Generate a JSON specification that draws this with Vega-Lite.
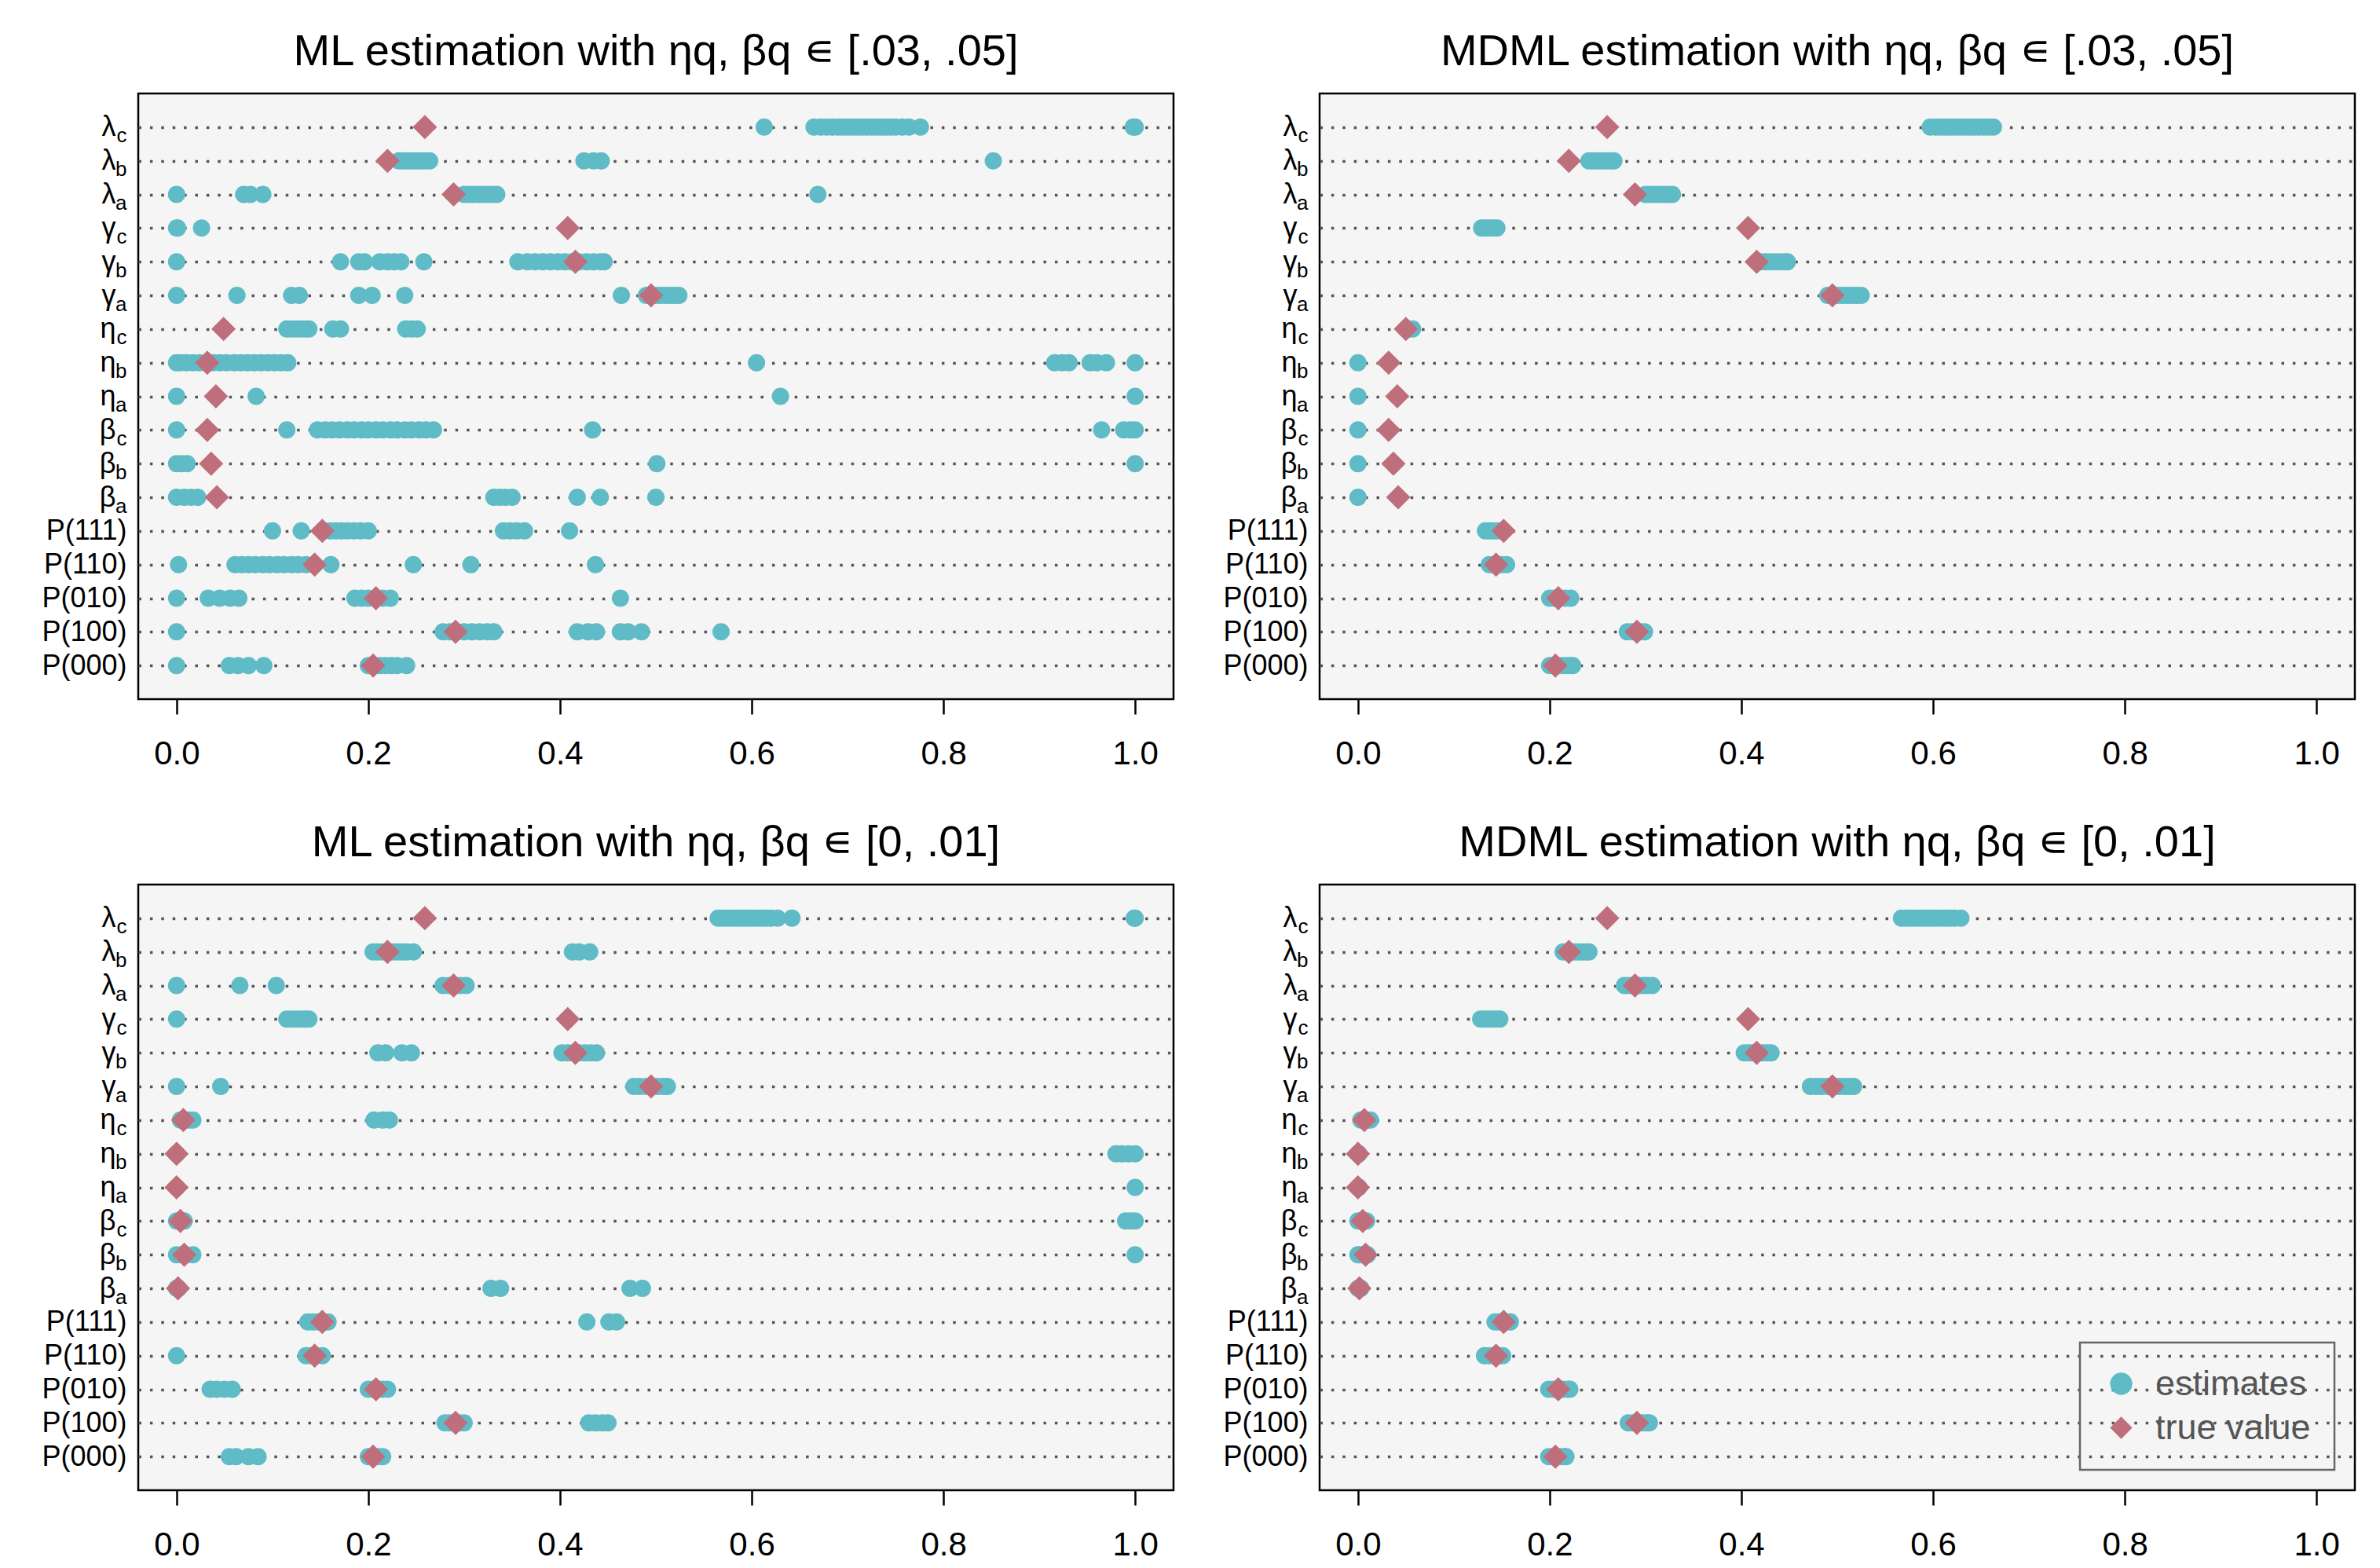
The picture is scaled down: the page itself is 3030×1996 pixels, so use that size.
{
"$schema": "https://vega.github.io/schema/vega-lite/v6.json",
"background": "white",
"padding": {"left": 51, "top": 36, "right": 30, "bottom": 20},
"datasets": {
"ml_a": [
{"param":"λc","value":0.613},{"param":"λc","value":0.665},{"param":"λc","value":0.672},{"param":"λc","value":0.678},{"param":"λc","value":0.684},{"param":"λc","value":0.69},{"param":"λc","value":0.695},{"param":"λc","value":0.7},{"param":"λc","value":0.705},{"param":"λc","value":0.71},{"param":"λc","value":0.715},{"param":"λc","value":0.72},{"param":"λc","value":0.725},{"param":"λc","value":0.73},{"param":"λc","value":0.735},{"param":"λc","value":0.74},{"param":"λc","value":0.745},{"param":"λc","value":0.75},{"param":"λc","value":0.757},{"param":"λc","value":0.764},{"param":"λc","value":0.776},{"param":"λc","value":0.998},{"param":"λc","value":1.0},
{"param":"λb","value":0.232},{"param":"λb","value":0.236},{"param":"λb","value":0.24},{"param":"λb","value":0.244},{"param":"λb","value":0.248},{"param":"λb","value":0.252},{"param":"λb","value":0.256},{"param":"λb","value":0.26},{"param":"λb","value":0.264},{"param":"λb","value":0.425},{"param":"λb","value":0.435},{"param":"λb","value":0.443},{"param":"λb","value":0.852},
{"param":"λa","value":0.0},{"param":"λa","value":0.07},{"param":"λa","value":0.077},{"param":"λa","value":0.09},{"param":"λa","value":0.3},{"param":"λa","value":0.305},{"param":"λa","value":0.31},{"param":"λa","value":0.315},{"param":"λa","value":0.32},{"param":"λa","value":0.325},{"param":"λa","value":0.33},{"param":"λa","value":0.334},{"param":"λa","value":0.669},
{"param":"γc","value":0.0},{"param":"γc","value":0.001},{"param":"γc","value":0.026},
{"param":"γb","value":0.0},{"param":"γb","value":0.171},{"param":"γb","value":0.19},{"param":"γb","value":0.196},{"param":"γb","value":0.212},{"param":"γb","value":0.22},{"param":"γb","value":0.227},{"param":"γb","value":0.234},{"param":"γb","value":0.258},{"param":"γb","value":0.356},{"param":"γb","value":0.366},{"param":"γb","value":0.374},{"param":"γb","value":0.382},{"param":"γb","value":0.39},{"param":"γb","value":0.398},{"param":"γb","value":0.405},{"param":"γb","value":0.412},{"param":"γb","value":0.42},{"param":"γb","value":0.428},{"param":"γb","value":0.435},{"param":"γb","value":0.442},{"param":"γb","value":0.446},
{"param":"γa","value":0.0},{"param":"γa","value":0.063},{"param":"γa","value":0.12},{"param":"γa","value":0.128},{"param":"γa","value":0.19},{"param":"γa","value":0.204},{"param":"γa","value":0.238},{"param":"γa","value":0.464},{"param":"γa","value":0.49},{"param":"γa","value":0.495},{"param":"γa","value":0.5},{"param":"γa","value":0.505},{"param":"γa","value":0.51},{"param":"γa","value":0.515},{"param":"γa","value":0.52},{"param":"γa","value":0.524},
{"param":"ηc","value":0.115},{"param":"ηc","value":0.12},{"param":"ηc","value":0.125},{"param":"ηc","value":0.13},{"param":"ηc","value":0.135},{"param":"ηc","value":0.138},{"param":"ηc","value":0.163},{"param":"ηc","value":0.171},{"param":"ηc","value":0.239},{"param":"ηc","value":0.245},{"param":"ηc","value":0.251},
{"param":"ηb","value":0.0},{"param":"ηb","value":0.004},{"param":"ηb","value":0.01},{"param":"ηb","value":0.017},{"param":"ηb","value":0.024},{"param":"ηb","value":0.031},{"param":"ηb","value":0.038},{"param":"ηb","value":0.045},{"param":"ηb","value":0.052},{"param":"ηb","value":0.06},{"param":"ηb","value":0.067},{"param":"ηb","value":0.074},{"param":"ηb","value":0.081},{"param":"ηb","value":0.088},{"param":"ηb","value":0.095},{"param":"ηb","value":0.102},{"param":"ηb","value":0.109},{"param":"ηb","value":0.116},{"param":"ηb","value":0.605},{"param":"ηb","value":0.916},{"param":"ηb","value":0.924},{"param":"ηb","value":0.931},{"param":"ηb","value":0.953},{"param":"ηb","value":0.96},{"param":"ηb","value":0.97},{"param":"ηb","value":1.0},
{"param":"ηa","value":0.0},{"param":"ηa","value":0.083},{"param":"ηa","value":0.63},{"param":"ηa","value":1.0},
{"param":"βc","value":0.0},{"param":"βc","value":0.115},{"param":"βc","value":0.147},{"param":"βc","value":0.155},{"param":"βc","value":0.162},{"param":"βc","value":0.17},{"param":"βc","value":0.178},{"param":"βc","value":0.185},{"param":"βc","value":0.193},{"param":"βc","value":0.2},{"param":"βc","value":0.208},{"param":"βc","value":0.215},{"param":"βc","value":0.223},{"param":"βc","value":0.23},{"param":"βc","value":0.238},{"param":"βc","value":0.245},{"param":"βc","value":0.253},{"param":"βc","value":0.26},{"param":"βc","value":0.268},{"param":"βc","value":0.434},{"param":"βc","value":0.965},{"param":"βc","value":0.988},{"param":"βc","value":0.995},{"param":"βc","value":1.0},
{"param":"βb","value":0.0},{"param":"βb","value":0.005},{"param":"βb","value":0.011},{"param":"βb","value":0.501},{"param":"βb","value":1.0},
{"param":"βa","value":0.0},{"param":"βa","value":0.008},{"param":"βa","value":0.015},{"param":"βa","value":0.022},{"param":"βa","value":0.331},{"param":"βa","value":0.337},{"param":"βa","value":0.343},{"param":"βa","value":0.35},{"param":"βa","value":0.418},{"param":"βa","value":0.442},{"param":"βa","value":0.5},
{"param":"P(111)","value":0.1},{"param":"P(111)","value":0.13},{"param":"P(111)","value":0.16},{"param":"P(111)","value":0.166},{"param":"P(111)","value":0.172},{"param":"P(111)","value":0.178},{"param":"P(111)","value":0.185},{"param":"P(111)","value":0.192},{"param":"P(111)","value":0.2},{"param":"P(111)","value":0.341},{"param":"P(111)","value":0.348},{"param":"P(111)","value":0.355},{"param":"P(111)","value":0.363},{"param":"P(111)","value":0.41},
{"param":"P(110)","value":0.002},{"param":"P(110)","value":0.061},{"param":"P(110)","value":0.068},{"param":"P(110)","value":0.075},{"param":"P(110)","value":0.082},{"param":"P(110)","value":0.09},{"param":"P(110)","value":0.097},{"param":"P(110)","value":0.105},{"param":"P(110)","value":0.112},{"param":"P(110)","value":0.12},{"param":"P(110)","value":0.127},{"param":"P(110)","value":0.135},{"param":"P(110)","value":0.161},{"param":"P(110)","value":0.247},{"param":"P(110)","value":0.307},{"param":"P(110)","value":0.437},
{"param":"P(010)","value":0.0},{"param":"P(010)","value":0.033},{"param":"P(010)","value":0.045},{"param":"P(010)","value":0.056},{"param":"P(010)","value":0.065},{"param":"P(010)","value":0.186},{"param":"P(010)","value":0.193},{"param":"P(010)","value":0.2},{"param":"P(010)","value":0.207},{"param":"P(010)","value":0.215},{"param":"P(010)","value":0.223},{"param":"P(010)","value":0.463},
{"param":"P(100)","value":0.0},{"param":"P(100)","value":0.278},{"param":"P(100)","value":0.285},{"param":"P(100)","value":0.292},{"param":"P(100)","value":0.3},{"param":"P(100)","value":0.308},{"param":"P(100)","value":0.316},{"param":"P(100)","value":0.324},{"param":"P(100)","value":0.331},{"param":"P(100)","value":0.418},{"param":"P(100)","value":0.429},{"param":"P(100)","value":0.438},{"param":"P(100)","value":0.463},{"param":"P(100)","value":0.471},{"param":"P(100)","value":0.485},{"param":"P(100)","value":0.568},
{"param":"P(000)","value":0.0},{"param":"P(000)","value":0.055},{"param":"P(000)","value":0.064},{"param":"P(000)","value":0.075},{"param":"P(000)","value":0.091},{"param":"P(000)","value":0.2},{"param":"P(000)","value":0.206},{"param":"P(000)","value":0.212},{"param":"P(000)","value":0.218},{"param":"P(000)","value":0.224},{"param":"P(000)","value":0.23},{"param":"P(000)","value":0.24}
],
"true_ml_a": [
{"param":"λc","value":0.259},{"param":"λb","value":0.22},{"param":"λa","value":0.289},{"param":"γc","value":0.408},{"param":"γb","value":0.416},{"param":"γa","value":0.495},{"param":"ηc","value":0.049},{"param":"ηb","value":0.032},{"param":"ηa","value":0.041},{"param":"βc","value":0.032},{"param":"βb","value":0.036},{"param":"βa","value":0.042},{"param":"P(111)","value":0.152},{"param":"P(110)","value":0.144},{"param":"P(010)","value":0.208},{"param":"P(100)","value":0.291},{"param":"P(000)","value":0.205}
],
"mdml_a": [
{"param":"λc","value":0.597},{"param":"λc","value":0.603},{"param":"λc","value":0.608},{"param":"λc","value":0.613},{"param":"λc","value":0.618},{"param":"λc","value":0.623},{"param":"λc","value":0.628},{"param":"λc","value":0.633},{"param":"λc","value":0.638},{"param":"λc","value":0.643},{"param":"λc","value":0.648},{"param":"λc","value":0.653},{"param":"λc","value":0.658},{"param":"λc","value":0.663},
{"param":"λb","value":0.241},{"param":"λb","value":0.245},{"param":"λb","value":0.249},{"param":"λb","value":0.253},{"param":"λb","value":0.257},{"param":"λb","value":0.261},{"param":"λb","value":0.265},{"param":"λb","value":0.267},
{"param":"λa","value":0.3},{"param":"λa","value":0.304},{"param":"λa","value":0.308},{"param":"λa","value":0.312},{"param":"λa","value":0.316},{"param":"λa","value":0.32},{"param":"λa","value":0.324},{"param":"λa","value":0.328},
{"param":"γc","value":0.129},{"param":"γc","value":0.132},{"param":"γc","value":0.135},{"param":"γc","value":0.138},{"param":"γc","value":0.141},{"param":"γc","value":0.145},
{"param":"γb","value":0.416},{"param":"γb","value":0.42},{"param":"γb","value":0.425},{"param":"γb","value":0.43},{"param":"γb","value":0.435},{"param":"γb","value":0.44},{"param":"γb","value":0.445},{"param":"γb","value":0.448},
{"param":"γa","value":0.49},{"param":"γa","value":0.495},{"param":"γa","value":0.5},{"param":"γa","value":0.505},{"param":"γa","value":0.51},{"param":"γa","value":0.515},{"param":"γa","value":0.52},{"param":"γa","value":0.525},
{"param":"ηc","value":0.05},{"param":"ηc","value":0.053},{"param":"ηc","value":0.057},
{"param":"ηb","value":0.0},{"param":"ηa","value":0.0},{"param":"βc","value":0.0},{"param":"βb","value":0.0},{"param":"βa","value":0.0},
{"param":"P(111)","value":0.133},{"param":"P(111)","value":0.137},{"param":"P(111)","value":0.141},{"param":"P(111)","value":0.145},
{"param":"P(110)","value":0.137},{"param":"P(110)","value":0.141},{"param":"P(110)","value":0.146},{"param":"P(110)","value":0.15},{"param":"P(110)","value":0.155},
{"param":"P(010)","value":0.2},{"param":"P(010)","value":0.205},{"param":"P(010)","value":0.21},{"param":"P(010)","value":0.216},{"param":"P(010)","value":0.222},
{"param":"P(100)","value":0.281},{"param":"P(100)","value":0.286},{"param":"P(100)","value":0.291},{"param":"P(100)","value":0.295},{"param":"P(100)","value":0.299},
{"param":"P(000)","value":0.2},{"param":"P(000)","value":0.205},{"param":"P(000)","value":0.21},{"param":"P(000)","value":0.215},{"param":"P(000)","value":0.22},{"param":"P(000)","value":0.224}
],
"true_mdml_a": [
{"param":"λc","value":0.26},{"param":"λb","value":0.22},{"param":"λa","value":0.289},{"param":"γc","value":0.407},{"param":"γb","value":0.416},{"param":"γa","value":0.495},{"param":"ηc","value":0.05},{"param":"ηb","value":0.032},{"param":"ηa","value":0.041},{"param":"βc","value":0.032},{"param":"βb","value":0.037},{"param":"βa","value":0.042},{"param":"P(111)","value":0.152},{"param":"P(110)","value":0.144},{"param":"P(010)","value":0.209},{"param":"P(100)","value":0.291},{"param":"P(000)","value":0.206}
],
"ml_b": [
{"param":"λc","value":0.565},{"param":"λc","value":0.57},{"param":"λc","value":0.575},{"param":"λc","value":0.58},{"param":"λc","value":0.585},{"param":"λc","value":0.59},{"param":"λc","value":0.595},{"param":"λc","value":0.6},{"param":"λc","value":0.605},{"param":"λc","value":0.61},{"param":"λc","value":0.615},{"param":"λc","value":0.62},{"param":"λc","value":0.627},{"param":"λc","value":0.642},{"param":"λc","value":0.999},{"param":"λc","value":1.0},
{"param":"λb","value":0.205},{"param":"λb","value":0.21},{"param":"λb","value":0.215},{"param":"λb","value":0.22},{"param":"λb","value":0.225},{"param":"λb","value":0.23},{"param":"λb","value":0.235},{"param":"λb","value":0.24},{"param":"λb","value":0.247},{"param":"λb","value":0.413},{"param":"λb","value":0.42},{"param":"λb","value":0.431},
{"param":"λa","value":0.0},{"param":"λa","value":0.066},{"param":"λa","value":0.104},{"param":"λa","value":0.278},{"param":"λa","value":0.284},{"param":"λa","value":0.29},{"param":"λa","value":0.296},{"param":"λa","value":0.302},
{"param":"γc","value":0.0},{"param":"γc","value":0.115},{"param":"γc","value":0.12},{"param":"γc","value":0.125},{"param":"γc","value":0.13},{"param":"γc","value":0.134},{"param":"γc","value":0.138},
{"param":"γb","value":0.21},{"param":"γb","value":0.218},{"param":"γb","value":0.235},{"param":"γb","value":0.245},{"param":"γb","value":0.402},{"param":"γb","value":0.408},{"param":"γb","value":0.414},{"param":"γb","value":0.42},{"param":"γb","value":0.426},{"param":"γb","value":0.432},{"param":"γb","value":0.438},
{"param":"γa","value":0.0},{"param":"γa","value":0.046},{"param":"γa","value":0.477},{"param":"γa","value":0.483},{"param":"γa","value":0.49},{"param":"γa","value":0.496},{"param":"γa","value":0.502},{"param":"γa","value":0.508},{"param":"γa","value":0.512},
{"param":"ηc","value":0.004},{"param":"ηc","value":0.009},{"param":"ηc","value":0.013},{"param":"ηc","value":0.017},{"param":"ηc","value":0.206},{"param":"ηc","value":0.215},{"param":"ηc","value":0.222},
{"param":"ηb","value":0.0},{"param":"ηb","value":0.98},{"param":"ηb","value":0.986},{"param":"ηb","value":0.993},{"param":"ηb","value":1.0},
{"param":"ηa","value":0.0},{"param":"ηa","value":1.0},
{"param":"βc","value":0.0},{"param":"βc","value":0.004},{"param":"βc","value":0.008},{"param":"βc","value":0.99},{"param":"βc","value":0.995},{"param":"βc","value":1.0},
{"param":"βb","value":0.0},{"param":"βb","value":0.005},{"param":"βb","value":0.01},{"param":"βb","value":0.017},{"param":"βb","value":1.0},
{"param":"βa","value":0.0},{"param":"βa","value":0.002},{"param":"βa","value":0.328},{"param":"βa","value":0.338},{"param":"βa","value":0.473},{"param":"βa","value":0.486},
{"param":"P(111)","value":0.137},{"param":"P(111)","value":0.142},{"param":"P(111)","value":0.147},{"param":"P(111)","value":0.152},{"param":"P(111)","value":0.158},{"param":"P(111)","value":0.428},{"param":"P(111)","value":0.451},{"param":"P(111)","value":0.459},
{"param":"P(110)","value":0.0},{"param":"P(110)","value":0.135},{"param":"P(110)","value":0.14},{"param":"P(110)","value":0.145},{"param":"P(110)","value":0.152},
{"param":"P(010)","value":0.035},{"param":"P(010)","value":0.042},{"param":"P(010)","value":0.05},{"param":"P(010)","value":0.058},{"param":"P(010)","value":0.2},{"param":"P(010)","value":0.205},{"param":"P(010)","value":0.21},{"param":"P(010)","value":0.215},{"param":"P(010)","value":0.22},
{"param":"P(100)","value":0.28},{"param":"P(100)","value":0.285},{"param":"P(100)","value":0.29},{"param":"P(100)","value":0.295},{"param":"P(100)","value":0.3},{"param":"P(100)","value":0.43},{"param":"P(100)","value":0.437},{"param":"P(100)","value":0.444},{"param":"P(100)","value":0.45},
{"param":"P(000)","value":0.055},{"param":"P(000)","value":0.062},{"param":"P(000)","value":0.075},{"param":"P(000)","value":0.085},{"param":"P(000)","value":0.2},{"param":"P(000)","value":0.205},{"param":"P(000)","value":0.21},{"param":"P(000)","value":0.215}
],
"true_ml_b": [
{"param":"λc","value":0.259},{"param":"λb","value":0.22},{"param":"λa","value":0.289},{"param":"γc","value":0.408},{"param":"γb","value":0.416},{"param":"γa","value":0.495},{"param":"ηc","value":0.007},{"param":"ηb","value":0.0},{"param":"ηa","value":0.0},{"param":"βc","value":0.004},{"param":"βb","value":0.008},{"param":"βa","value":0.0015},{"param":"P(111)","value":0.152},{"param":"P(110)","value":0.144},{"param":"P(010)","value":0.208},{"param":"P(100)","value":0.291},{"param":"P(000)","value":0.205}
],
"mdml_b": [
{"param":"λc","value":0.567},{"param":"λc","value":0.572},{"param":"λc","value":0.577},{"param":"λc","value":0.582},{"param":"λc","value":0.587},{"param":"λc","value":0.592},{"param":"λc","value":0.597},{"param":"λc","value":0.602},{"param":"λc","value":0.607},{"param":"λc","value":0.612},{"param":"λc","value":0.617},{"param":"λc","value":0.622},{"param":"λc","value":0.629},
{"param":"λb","value":0.214},{"param":"λb","value":0.218},{"param":"λb","value":0.222},{"param":"λb","value":0.226},{"param":"λb","value":0.23},{"param":"λb","value":0.234},{"param":"λb","value":0.238},{"param":"λb","value":0.241},
{"param":"λa","value":0.278},{"param":"λa","value":0.282},{"param":"λa","value":0.286},{"param":"λa","value":0.29},{"param":"λa","value":0.294},{"param":"λa","value":0.298},{"param":"λa","value":0.302},{"param":"λa","value":0.307},
{"param":"γc","value":0.128},{"param":"γc","value":0.132},{"param":"γc","value":0.136},{"param":"γc","value":0.14},{"param":"γc","value":0.144},{"param":"γc","value":0.148},
{"param":"γb","value":0.403},{"param":"γb","value":0.407},{"param":"γb","value":0.411},{"param":"γb","value":0.415},{"param":"γb","value":0.419},{"param":"γb","value":0.423},{"param":"γb","value":0.427},{"param":"γb","value":0.431},
{"param":"γa","value":0.472},{"param":"γa","value":0.478},{"param":"γa","value":0.484},{"param":"γa","value":0.49},{"param":"γa","value":0.496},{"param":"γa","value":0.502},{"param":"γa","value":0.508},{"param":"γa","value":0.513},{"param":"γa","value":0.517},
{"param":"ηc","value":0.003},{"param":"ηc","value":0.007},{"param":"ηc","value":0.01},{"param":"ηc","value":0.013},
{"param":"ηb","value":0.0},{"param":"ηb","value":0.001},
{"param":"ηa","value":0.0},{"param":"ηa","value":0.001},
{"param":"βc","value":0.0},{"param":"βc","value":0.003},{"param":"βc","value":0.006},{"param":"βc","value":0.009},
{"param":"βb","value":0.0},{"param":"βb","value":0.002},{"param":"βb","value":0.005},{"param":"βb","value":0.01},
{"param":"βa","value":0.0},{"param":"βa","value":0.002},{"param":"βa","value":0.003},
{"param":"P(111)","value":0.143},{"param":"P(111)","value":0.147},{"param":"P(111)","value":0.151},{"param":"P(111)","value":0.155},{"param":"P(111)","value":0.159},
{"param":"P(110)","value":0.132},{"param":"P(110)","value":0.137},{"param":"P(110)","value":0.142},{"param":"P(110)","value":0.147},{"param":"P(110)","value":0.151},
{"param":"P(010)","value":0.199},{"param":"P(010)","value":0.204},{"param":"P(010)","value":0.209},{"param":"P(010)","value":0.214},{"param":"P(010)","value":0.219},{"param":"P(010)","value":0.221},
{"param":"P(100)","value":0.282},{"param":"P(100)","value":0.287},{"param":"P(100)","value":0.292},{"param":"P(100)","value":0.297},{"param":"P(100)","value":0.302},{"param":"P(100)","value":0.304},
{"param":"P(000)","value":0.199},{"param":"P(000)","value":0.203},{"param":"P(000)","value":0.207},{"param":"P(000)","value":0.211},{"param":"P(000)","value":0.215},{"param":"P(000)","value":0.217}
],
"true_mdml_b": [
{"param":"λc","value":0.26},{"param":"λb","value":0.22},{"param":"λa","value":0.289},{"param":"γc","value":0.407},{"param":"γb","value":0.416},{"param":"γa","value":0.495},{"param":"ηc","value":0.0066},{"param":"ηb","value":0.0},{"param":"ηa","value":0.0},{"param":"βc","value":0.005},{"param":"βb","value":0.008},{"param":"βa","value":0.0015},{"param":"P(111)","value":0.152},{"param":"P(110)","value":0.144},{"param":"P(010)","value":0.209},{"param":"P(100)","value":0.291},{"param":"P(000)","value":0.206}
]
},
"columns": 2,
"spacing": {"row": 236, "column": 186},
"bounds": "flush",
"concat": [
{
"width": 1318, "height": 771,
"title": "ML estimation with ηq, βq ∊ [.03, .05]",
"resolve": {"axis": {"y": "independent"}},
"layer": [
{"data": {"name": "ml_a"},
"mark": {"type": "point", "filled": true, "size": 484, "opacity": 1},
"encoding": {
"x": {"field": "value", "type": "quantitative", "title": null, "scale": {"domain": [-0.04, 1.04], "nice": false, "zero": false}, "axis": {"values": [0, 0.2, 0.4, 0.6, 0.8, 1], "format": ".1f"}},
"y": {"field": "param", "type": "nominal", "title": null, "scale": {"type": "point", "padding": 1, "domain": ["λc","λb","λa","γc","γb","γa","ηc","ηb","ηa","βc","βb","βa","P(111)","P(110)","P(010)","P(100)","P(000)"]},
"axis": {"orient": "left", "grid": true, "gridColor": "#555555", "gridWidth": 3.5, "gridDash": [3.5, 10.9], "ticks": false, "tickSize": 0, "domain": false, "labelFontSize": 36, "labelColor": "black", "labelBaseline": "middle", "labelAlign": "right", "labelOverlap": false, "labelExpr": "indexof(datum.value, 'P') == 0 ? datum.value : substring(datum.value, 0, 1)", "labelPadding": {"condition": {"test": "indexof(datum.value, 'P') == 0", "value": 15}, "value": 29}}},
"color": {"datum": "estimates", "type": "nominal", "scale": {"domain": ["estimates", "true value"], "range": ["#5FBBC6", "#BF6F7C"]}, "legend": null},
"shape": {"datum": "estimates", "type": "nominal", "scale": {"domain": ["estimates", "true value"], "range": ["circle", "diamond"]}, "legend": null}
}},
{"data": {"name": "true_ml_a"},
"mark": {"type": "point", "filled": true, "size": 961, "opacity": 1},
"encoding": {
"x": {"field": "value", "type": "quantitative", "title": null, "scale": {"domain": [-0.04, 1.04], "nice": false, "zero": false}, "axis": {"values": [0, 0.2, 0.4, 0.6, 0.8, 1], "format": ".1f"}},
"y": {"field": "param", "type": "nominal", "title": null, "scale": {"type": "point", "padding": 1, "domain": ["λc","λb","λa","γc","γb","γa","ηc","ηb","ηa","βc","βb","βa","P(111)","P(110)","P(010)","P(100)","P(000)"]},
"axis": {"orient": "left", "grid": false, "ticks": false, "tickSize": 0, "domain": false, "labelFontSize": 26, "labelColor": "black", "labelBaseline": "middle", "labelAlign": "right", "labelOverlap": false, "labelExpr": "indexof(datum.value, 'P') == 0 ? '' : substring(datum.value, 1)", "labelPadding": 15, "labelOffset": 11}},
"color": {"datum": "true value", "type": "nominal", "scale": {"domain": ["estimates", "true value"], "range": ["#5FBBC6", "#BF6F7C"]}, "legend": null},
"shape": {"datum": "true value", "type": "nominal", "scale": {"domain": ["estimates", "true value"], "range": ["circle", "diamond"]}, "legend": null}
}}
]
},
{
"width": 1318, "height": 771,
"title": "MDML estimation with ηq, βq ∊ [.03, .05]",
"resolve": {"axis": {"y": "independent"}},
"layer": [
{"data": {"name": "mdml_a"},
"mark": {"type": "point", "filled": true, "size": 484, "opacity": 1},
"encoding": {
"x": {"field": "value", "type": "quantitative", "title": null, "scale": {"domain": [-0.04, 1.04], "nice": false, "zero": false}, "axis": {"values": [0, 0.2, 0.4, 0.6, 0.8, 1], "format": ".1f"}},
"y": {"field": "param", "type": "nominal", "title": null, "scale": {"type": "point", "padding": 1, "domain": ["λc","λb","λa","γc","γb","γa","ηc","ηb","ηa","βc","βb","βa","P(111)","P(110)","P(010)","P(100)","P(000)"]},
"axis": {"orient": "left", "grid": true, "gridColor": "#555555", "gridWidth": 3.5, "gridDash": [3.5, 10.9], "ticks": false, "tickSize": 0, "domain": false, "labelFontSize": 36, "labelColor": "black", "labelBaseline": "middle", "labelAlign": "right", "labelOverlap": false, "labelExpr": "indexof(datum.value, 'P') == 0 ? datum.value : substring(datum.value, 0, 1)", "labelPadding": {"condition": {"test": "indexof(datum.value, 'P') == 0", "value": 15}, "value": 29}}},
"color": {"datum": "estimates", "type": "nominal", "scale": {"domain": ["estimates", "true value"], "range": ["#5FBBC6", "#BF6F7C"]}, "legend": null},
"shape": {"datum": "estimates", "type": "nominal", "scale": {"domain": ["estimates", "true value"], "range": ["circle", "diamond"]}, "legend": null}
}},
{"data": {"name": "true_mdml_a"},
"mark": {"type": "point", "filled": true, "size": 961, "opacity": 1},
"encoding": {
"x": {"field": "value", "type": "quantitative", "title": null, "scale": {"domain": [-0.04, 1.04], "nice": false, "zero": false}, "axis": {"values": [0, 0.2, 0.4, 0.6, 0.8, 1], "format": ".1f"}},
"y": {"field": "param", "type": "nominal", "title": null, "scale": {"type": "point", "padding": 1, "domain": ["λc","λb","λa","γc","γb","γa","ηc","ηb","ηa","βc","βb","βa","P(111)","P(110)","P(010)","P(100)","P(000)"]},
"axis": {"orient": "left", "grid": false, "ticks": false, "tickSize": 0, "domain": false, "labelFontSize": 26, "labelColor": "black", "labelBaseline": "middle", "labelAlign": "right", "labelOverlap": false, "labelExpr": "indexof(datum.value, 'P') == 0 ? '' : substring(datum.value, 1)", "labelPadding": 15, "labelOffset": 11}},
"color": {"datum": "true value", "type": "nominal", "scale": {"domain": ["estimates", "true value"], "range": ["#5FBBC6", "#BF6F7C"]}, "legend": null},
"shape": {"datum": "true value", "type": "nominal", "scale": {"domain": ["estimates", "true value"], "range": ["circle", "diamond"]}, "legend": null}
}}
]
},
{
"width": 1318, "height": 771,
"title": "ML estimation with ηq, βq ∊ [0, .01]",
"resolve": {"axis": {"y": "independent"}},
"layer": [
{"data": {"name": "ml_b"},
"mark": {"type": "point", "filled": true, "size": 484, "opacity": 1},
"encoding": {
"x": {"field": "value", "type": "quantitative", "title": null, "scale": {"domain": [-0.04, 1.04], "nice": false, "zero": false}, "axis": {"values": [0, 0.2, 0.4, 0.6, 0.8, 1], "format": ".1f"}},
"y": {"field": "param", "type": "nominal", "title": null, "scale": {"type": "point", "padding": 1, "domain": ["λc","λb","λa","γc","γb","γa","ηc","ηb","ηa","βc","βb","βa","P(111)","P(110)","P(010)","P(100)","P(000)"]},
"axis": {"orient": "left", "grid": true, "gridColor": "#555555", "gridWidth": 3.5, "gridDash": [3.5, 10.9], "ticks": false, "tickSize": 0, "domain": false, "labelFontSize": 36, "labelColor": "black", "labelBaseline": "middle", "labelAlign": "right", "labelOverlap": false, "labelExpr": "indexof(datum.value, 'P') == 0 ? datum.value : substring(datum.value, 0, 1)", "labelPadding": {"condition": {"test": "indexof(datum.value, 'P') == 0", "value": 15}, "value": 29}}},
"color": {"datum": "estimates", "type": "nominal", "scale": {"domain": ["estimates", "true value"], "range": ["#5FBBC6", "#BF6F7C"]}, "legend": null},
"shape": {"datum": "estimates", "type": "nominal", "scale": {"domain": ["estimates", "true value"], "range": ["circle", "diamond"]}, "legend": null}
}},
{"data": {"name": "true_ml_b"},
"mark": {"type": "point", "filled": true, "size": 961, "opacity": 1},
"encoding": {
"x": {"field": "value", "type": "quantitative", "title": null, "scale": {"domain": [-0.04, 1.04], "nice": false, "zero": false}, "axis": {"values": [0, 0.2, 0.4, 0.6, 0.8, 1], "format": ".1f"}},
"y": {"field": "param", "type": "nominal", "title": null, "scale": {"type": "point", "padding": 1, "domain": ["λc","λb","λa","γc","γb","γa","ηc","ηb","ηa","βc","βb","βa","P(111)","P(110)","P(010)","P(100)","P(000)"]},
"axis": {"orient": "left", "grid": false, "ticks": false, "tickSize": 0, "domain": false, "labelFontSize": 26, "labelColor": "black", "labelBaseline": "middle", "labelAlign": "right", "labelOverlap": false, "labelExpr": "indexof(datum.value, 'P') == 0 ? '' : substring(datum.value, 1)", "labelPadding": 15, "labelOffset": 11}},
"color": {"datum": "true value", "type": "nominal", "scale": {"domain": ["estimates", "true value"], "range": ["#5FBBC6", "#BF6F7C"]}, "legend": null},
"shape": {"datum": "true value", "type": "nominal", "scale": {"domain": ["estimates", "true value"], "range": ["circle", "diamond"]}, "legend": null}
}}
]
},
{
"width": 1318, "height": 771,
"title": "MDML estimation with ηq, βq ∊ [0, .01]",
"resolve": {"axis": {"y": "independent"}},
"layer": [
{"data": {"name": "mdml_b"},
"mark": {"type": "point", "filled": true, "size": 484, "opacity": 1},
"encoding": {
"x": {"field": "value", "type": "quantitative", "title": null, "scale": {"domain": [-0.04, 1.04], "nice": false, "zero": false}, "axis": {"values": [0, 0.2, 0.4, 0.6, 0.8, 1], "format": ".1f"}},
"y": {"field": "param", "type": "nominal", "title": null, "scale": {"type": "point", "padding": 1, "domain": ["λc","λb","λa","γc","γb","γa","ηc","ηb","ηa","βc","βb","βa","P(111)","P(110)","P(010)","P(100)","P(000)"]},
"axis": {"orient": "left", "grid": true, "gridColor": "#555555", "gridWidth": 3.5, "gridDash": [3.5, 10.9], "ticks": false, "tickSize": 0, "domain": false, "labelFontSize": 36, "labelColor": "black", "labelBaseline": "middle", "labelAlign": "right", "labelOverlap": false, "labelExpr": "indexof(datum.value, 'P') == 0 ? datum.value : substring(datum.value, 0, 1)", "labelPadding": {"condition": {"test": "indexof(datum.value, 'P') == 0", "value": 15}, "value": 29}}},
"color": {"datum": "estimates", "type": "nominal", "scale": {"domain": ["estimates", "true value"], "range": ["#5FBBC6", "#BF6F7C"]}, "legend": {"title": null}},
"shape": {"datum": "estimates", "type": "nominal", "scale": {"domain": ["estimates", "true value"], "range": ["circle", "diamond"]}, "legend": {"title": null}}
}},
{"data": {"name": "true_mdml_b"},
"mark": {"type": "point", "filled": true, "size": 961, "opacity": 1},
"encoding": {
"x": {"field": "value", "type": "quantitative", "title": null, "scale": {"domain": [-0.04, 1.04], "nice": false, "zero": false}, "axis": {"values": [0, 0.2, 0.4, 0.6, 0.8, 1], "format": ".1f"}},
"y": {"field": "param", "type": "nominal", "title": null, "scale": {"type": "point", "padding": 1, "domain": ["λc","λb","λa","γc","γb","γa","ηc","ηb","ηa","βc","βb","βa","P(111)","P(110)","P(010)","P(100)","P(000)"]},
"axis": {"orient": "left", "grid": false, "ticks": false, "tickSize": 0, "domain": false, "labelFontSize": 26, "labelColor": "black", "labelBaseline": "middle", "labelAlign": "right", "labelOverlap": false, "labelExpr": "indexof(datum.value, 'P') == 0 ? '' : substring(datum.value, 1)", "labelPadding": 15, "labelOffset": 11}},
"color": {"datum": "true value", "type": "nominal", "scale": {"domain": ["estimates", "true value"], "range": ["#5FBBC6", "#BF6F7C"]}, "legend": {"title": null}},
"shape": {"datum": "true value", "type": "nominal", "scale": {"domain": ["estimates", "true value"], "range": ["circle", "diamond"]}, "legend": {"title": null}}
}}
]
}
],
"resolve": {"scale": {"color": "independent", "shape": "independent"}, "legend": {"color": "independent", "shape": "independent"}},
"config": {
"font": "Liberation Sans",
"view": {"fill": "#F5F5F5", "stroke": "black", "strokeWidth": 2.5},
"axis": {"labelFont": "Liberation Sans", "titleFont": "Liberation Sans"},
"axisX": {"grid": false, "domain": false, "ticks": true, "tickSize": 19, "tickWidth": 2.5, "tickColor": "black", "labelFontSize": 42, "labelColor": "black", "labelPadding": 30, "labelFlush": false},
"title": {"font": "Liberation Sans", "fontSize": 56, "fontWeight": "normal", "color": "black", "anchor": "middle", "baseline": "alphabetic", "offset": 24},
"legend": {"orient": "bottom-right", "offset": 26, "padding": 30, "strokeColor": "#666666", "strokeWidth": 2.5, "labelFontSize": 45, "labelLimit": 600, "labelColor": "#555555", "labelFont": "Liberation Sans", "symbolSize": 800, "symbolStrokeWidth": 0, "symbolOpacity": 1, "rowPadding": 10, "labelOffset": 21}
}
}
